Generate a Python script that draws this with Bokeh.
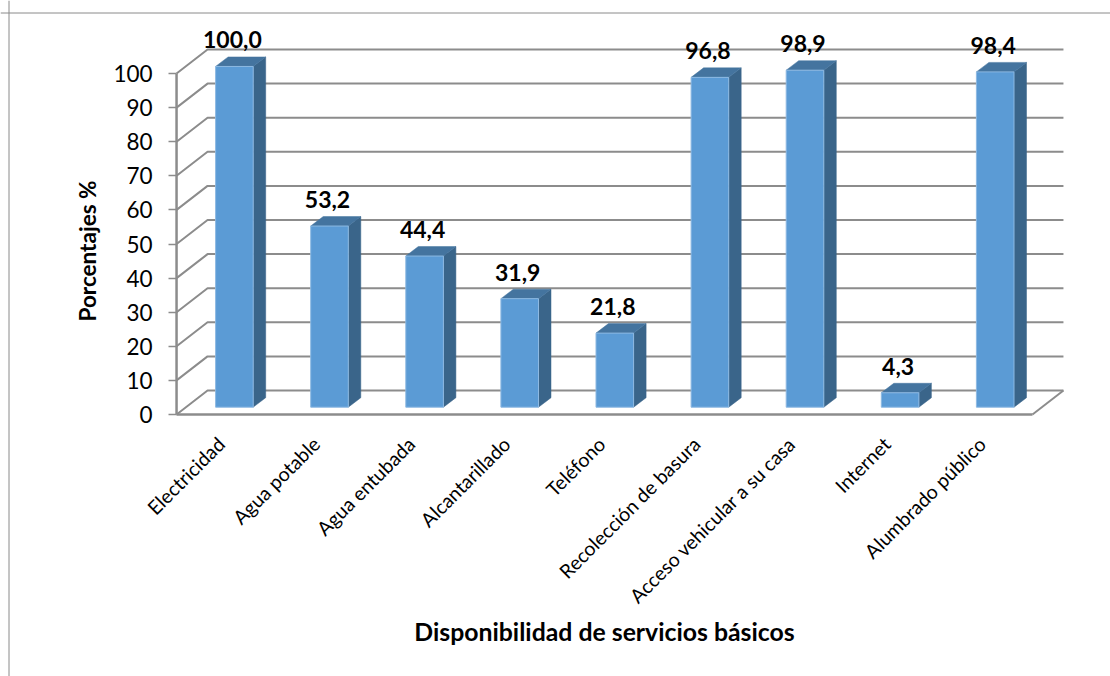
from bokeh.plotting import figure
from bokeh.models import Range1d, FixedTicker, Span
from bokeh.core.properties import value
from bokeh.embed import file_html
from bokeh.resources import INLINE

categories = ["Electricidad", "Agua potable", "Agua entubada", "Alcantarillado", "Teléfono",
              "Recolección de basura", "Acceso vehicular a su casa", "Internet", "Alumbrado público"]
values = [100.0, 53.2, 44.4, 31.9, 21.8, 96.8, 98.9, 4.3, 98.4]
value_labels = ["100,0", "53,2", "44,4", "31,9", "21,8", "96,8", "98,9", "4,3", "98,4"]
y_ticks = list(range(0, 101, 10))
y_title = "Porcentajes %"
x_title = "Disponibilidad de servicios básicos"

W, H = 1110, 676
PX_X = 95.1
PX_Y = 3.41
X0 = 220.6      # canvas x of the tick of category 0
Y0 = 414        # canvas y of value 0

GRID = "#8C8C8C"
FRONT, SIDE, TOP = "#5B9BD5", "#3A658A", "#44749F"
FONT = "Lato"

p = figure(width=W, height=H, output_backend="svg", toolbar_location=None, min_border=0,
           x_range=Range1d(-X0 / PX_X, (W - X0) / PX_X),
           y_range=Range1d(-(H - Y0) / PX_Y, Y0 / PX_Y),
           outline_line_color=None, background_fill_color="white", border_fill_color="white")
p.grid.visible = False

# 3D wall and floor
n = len(categories)
shift = 3 / PX_X
xl, xr = -0.5 + shift, n - 0.5 + shift
wall_dx, wall_dy = 31 / PX_X, 24 / PX_Y
gx, gy = [], []
for t in y_ticks:
    gx.append([xl, xl + wall_dx, xr + wall_dx])
    gy.append([t, t + wall_dy, t + wall_dy])
p.multi_line(gx, gy, line_color=GRID, line_width=2)
p.line([xr, xr + wall_dx], [0, wall_dy], line_color=GRID, line_width=2)
p.line([xl, xl], [y_ticks[0], y_ticks[-1]], line_color=GRID, line_width=2.5)

# bars
bar_off = 13.3 / PX_X
half = 18.8 / PX_X
base = 7.3 / PX_Y
rise = -0.25 / PX_Y
dep_x, dep_y = 12.5 / PX_X, 9.5 / PX_Y

lefts = [i + bar_off - half for i in range(n)]
rights = [i + bar_off + half for i in range(n)]
tops = [v + base + rise for v in values]
bots = [base] * n

side_x = [[r, r + dep_x, r + dep_x, r] for r in rights]
side_y = [[b, b + dep_y, t + dep_y, t] for b, t in zip(bots, tops)]
top_x = [[l, l + dep_x, r + dep_x, r] for l, r in zip(lefts, rights)]
top_y = [[t, t + dep_y, t + dep_y, t] for t in tops]
p.patches(side_x, side_y, fill_color=SIDE, line_color=SIDE, line_width=0.5)
p.patches(top_x, top_y, fill_color=TOP, line_color=TOP, line_width=0.5)
p.quad(left=lefts, right=rights, bottom=bots, top=tops, fill_color=FRONT, line_color="#8DB9E2", line_width=1)

# value labels
p.text([i + bar_off - 2 / PX_X for i in range(n)],
       [t + dep_y + 17 / PX_Y for t in tops],
       text=value_labels, text_font=value(FONT), text_font_style="bold", text_font_size="23px",
       text_color="#000000", text_align="center", text_baseline="middle")

# axes
ax = p.xaxis[0]
ax.fixed_location = 0
ax.bounds = (xl, xr)
ax.ticker = FixedTicker(ticks=list(range(n)))
ax.major_label_overrides = {i: c for i, c in enumerate(categories)}
ax.major_label_orientation = 0.785398
ax.major_label_text_font = FONT
ax.major_label_text_font_size = "19.5px"
ax.major_label_text_color = "#000000"
ax.major_label_standoff = 20
ax.major_tick_line_color = None
ax.minor_tick_line_color = None
ax.axis_line_color = GRID
ax.axis_line_width = 2.5
ax.axis_label = x_title
ax.axis_label_text_font = FONT
ax.axis_label_text_font_style = "bold"
ax.axis_label_text_font_size = "24.8px"
ax.axis_label_text_color = "#000000"
ax.axis_label_standoff = -1

ay = p.yaxis[0]
ay.fixed_location = xl
ay.bounds = (-4, 100)   # centres the axis title where the reference has it; the line is drawn above
ay.ticker = FixedTicker(ticks=y_ticks)
ay.major_label_text_font = FONT
ay.major_label_text_font_size = "22.5px"
ay.major_label_text_color = "#000000"
ay.major_label_standoff = 16
ay.major_tick_in = 0
ay.major_tick_out = 8
ay.major_tick_line_color = GRID
ay.major_tick_line_width = 1.5
ay.minor_tick_line_color = None
ay.axis_line_color = None
ay.axis_label = y_title
ay.axis_label_text_font = FONT
ay.axis_label_text_font_style = "bold"
ay.axis_label_text_font_size = "22.5px"
ay.axis_label_text_color = "#000000"
ay.axis_label_standoff = 9

# chart area border (left and top only are visible)
p.add_layout(Span(location=(8.5 - X0) / PX_X, dimension="height", line_color="#8A8A8A", line_width=1))
p.add_layout(Span(location=(Y0 - 12.5) / PX_Y, dimension="width", line_color="#8A8A8A", line_width=1))

open("out.html", "w").write(file_html(p, INLINE))
